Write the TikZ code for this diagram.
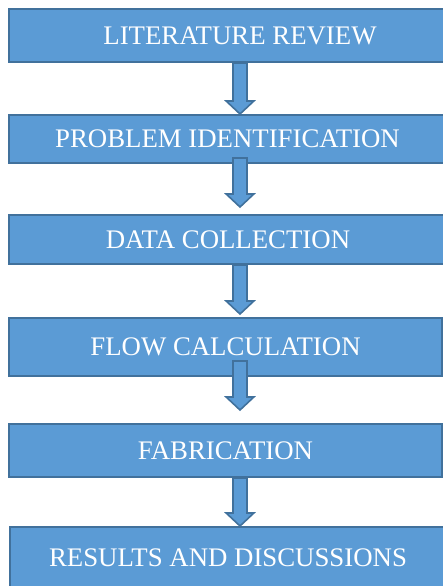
\documentclass[tikz,border=0pt]{standalone}
\usepackage{fontspec}
\setmainfont{Liberation Serif}
\usepackage{xcolor}
\usepackage{tikz}
\usetikzlibrary{calc}
\definecolor{boxfill}{HTML}{5B9BD5}
\definecolor{boxedge}{HTML}{41719C}

\begin{document}
\begin{tikzpicture}[x=0.75pt,y=-0.75pt,
    stage/.style={draw=boxedge,fill=boxfill,line width=1.5pt,text=white,inner sep=0pt,
      font=\fontsize{20.1}{24}\selectfont},
    flowarrow/.style={draw=boxedge,fill=boxfill,line width=1.2pt,line join=miter}]
  \useasboundingbox (0,0) rectangle (443,586);
  \fill[white] (0,0) rectangle (443,586);
  \clip (0,0) rectangle (443,586);
  % stages
  \node[stage,minimum width=346.5pt,minimum height=39.75pt] (lit) at (240,35.5) {LITERATURE REVIEW};
  \node[stage,minimum width=327.75pt,minimum height=36pt] (prob) at (227.5,139) {PROBLEM IDENTIFICATION};
  \node[stage,minimum width=328.5pt,minimum height=36.75pt] (data) at (228,239.5) {DATA COLLECTION};
  \node[stage,minimum width=324.75pt,minimum height=43.5pt] (flow) at (225.5,347) {FLOW CALCULATION};
  \node[stage,minimum width=324.75pt,minimum height=39.75pt] (fab) at (225.5,450.5) {FABRICATION};
  \node[stage,minimum width=327pt,minimum height=45.75pt] (res) at (228,557.5) {RESULTS AND DISCUSSIONS};
  % block arrows: from, to, start shift, tip shift
  \foreach \s/\t/\ds/\dt in {lit/prob/0/0, prob/data/-6/-7, data/flow/0/-3, flow/fab/-16/-13, fab/res/0/0} {
    \draw[flowarrow] let \p1=($(\s.south)+(0,\ds)$), \p2=($(\t.north)+(0,\dt)$) in
      (174.75pt,\y1) -- (174.75pt,\y2+9.75pt) -- (169.6pt,\y2+9.75pt) -- (180pt,\y2)
      -- (190.4pt,\y2+9.75pt) -- (185.25pt,\y2+9.75pt) -- (185.25pt,\y1) -- cycle;
  }
\end{tikzpicture}
\end{document}
